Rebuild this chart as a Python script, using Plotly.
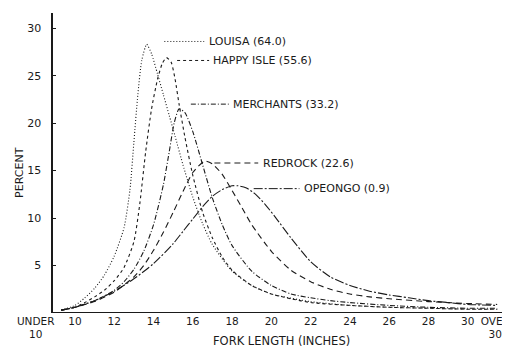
import plotly.graph_objects as go

# ---------------- data ----------------
series_names = ["LOUISA (64.0)", "HAPPY ISLE (55.6)", "MERCHANTS (33.2)",
                "REDROCK (22.6)", "OPEONGO (0.9)"]

louisa_x = [9.3, 10, 10.5, 11, 11.5, 12, 12.5, 12.8, 13.0, 13.2, 13.4, 13.65,
            13.9, 14.2, 14.5, 14.8, 15.1, 15.5, 16, 16.5, 17, 18, 19, 20, 22,
            24, 26, 28, 30, 31.5]
louisa_y = [0.3, 0.8, 1.6, 2.6, 4.0, 6.0, 9.0, 13.0, 18.0, 23.0, 26.6, 28.3,
            27.3, 25.2, 23.0, 20.8, 18.6, 15.6, 12.2, 9.4, 7.2, 4.4, 2.9, 2.0,
            1.2, 0.8, 0.6, 0.5, 0.4, 0.4]

happy_x = [9.3, 10, 10.5, 11, 11.5, 12, 12.5, 13, 13.3, 13.6, 13.9, 14.2, 14.45,
           14.66, 14.9, 15.1, 15.3, 15.6, 16, 16.5, 17, 17.5, 18, 19, 20, 21,
           22, 24, 26, 28, 30, 31.5]
happy_y = [0.3, 0.6, 1.1, 1.7, 2.4, 3.4, 4.8, 7.5, 11.5, 17.0, 21.5, 24.6, 26.3,
           26.9, 26.4, 24.6, 22.0, 18.5, 14.5, 10.6, 7.9, 5.9, 4.5, 2.9, 2.0,
           1.5, 1.1, 0.8, 0.6, 0.5, 0.4, 0.4]

merch_x = [9.3, 10, 11, 12, 12.5, 13, 13.5, 14, 14.5, 14.8, 15.05, 15.3, 15.6,
           16, 16.5, 17, 17.5, 18, 19, 20, 21, 22, 23, 24, 26, 28, 30, 31.5]
merch_y = [0.3, 0.6, 1.3, 2.4, 3.3, 4.6, 6.5, 9.3, 13.5, 17.0, 20.0, 21.5, 21.1,
           19.1, 15.6, 12.1, 9.3, 7.1, 4.4, 2.9, 2.0, 1.6, 1.3, 1.1, 0.8, 0.6,
           0.5, 0.5]

red_x = [9.3, 10, 11, 12, 13, 13.5, 14, 14.5, 15, 15.5, 16, 16.6, 17, 17.5, 18,
         18.5, 19, 20, 21, 22, 23, 24, 25, 26, 28, 30, 31.5]
red_y = [0.3, 0.6, 1.2, 2.2, 3.8, 5.0, 6.6, 8.5, 10.6, 12.8, 14.8, 16.0, 15.7,
         14.6, 12.9, 11.1, 9.3, 6.5, 4.5, 3.3, 2.5, 2.0, 1.7, 1.5, 1.2, 1.0, 0.9]

opeo_x = [9.3, 10, 11, 12, 13, 14, 15, 15.5, 16, 16.5, 17, 17.5, 18, 18.3, 18.7,
          19.2, 19.7, 20.2, 21, 22, 23, 24, 25, 26, 27, 28, 29, 30, 31.5]
opeo_y = [0.3, 0.6, 1.3, 2.3, 3.6, 5.2, 7.3, 8.6, 9.9, 11.2, 12.3, 13.0, 13.4,
          13.4, 13.2, 12.5, 11.4, 10.1, 7.9, 5.4, 3.8, 2.9, 2.3, 1.9, 1.6, 1.3,
          1.1, 0.9, 0.8]

x_tick_vals = [8, 10, 12, 14, 16, 18, 20, 22, 24, 26, 28, 30, 31.4]
x_tick_text = ["UNDER<br>10", "10", "12", "14", "16", "18", "20", "22", "24",
               "26", "28", "30", "OVER<br>30"]
y_tick_vals = [5, 10, 15, 20, 25, 30]

# label placement (annotation text and leader lines)
label_x = [16.7, 16.95, 17.95, 19.45, 21.55]
label_y = [28.6, 26.6, 22.0, 15.8, 13.1]
leader_start = [14.55, 15.2, 15.9, 17.1, 19.1]

# ---------------- styling ----------------
xs = [louisa_x, happy_x, merch_x, red_x, opeo_x]
ys = [louisa_y, happy_y, merch_y, red_y, opeo_y]
dashes = ["1px,2px", "3px,3px", "5px,2px,1px,2px", "6px,4px", "9px,2px,2px,2px"]
ink = "#1a1a1a"
font_family = "DejaVu Sans"

x_min, x_max = 7.2, 32.05
y_axis_at = 8.85
y_min, y_max = 0, 31.6

fig = go.Figure()
for name, x, y, d in zip(series_names, xs, ys, dashes):
    fig.add_trace(go.Scatter(x=x, y=y, mode="lines", name=name,
                             line=dict(color=ink, width=1.1, dash=d,
                                       shape="spline", smoothing=0.6),
                             showlegend=False, hoverinfo="skip"))

# series labels + leader lines
for name, lx, ly, ls, d in zip(series_names, label_x, label_y, leader_start, dashes):
    fig.add_shape(type="line", xref="x", yref="y", x0=ls, x1=lx - 0.12,
                  y0=ly, y1=ly, line=dict(color=ink, width=1, dash=d))
    fig.add_annotation(x=lx, y=ly, xref="x", yref="y", text=name,
                       showarrow=False, xanchor="left", yanchor="middle",
                       font=dict(family=font_family, size=11, color=ink))

# x baseline starting at the y axis
fig.add_shape(type="line", xref="x", yref="y", x0=y_axis_at, x1=31.8,
              y0=0, y1=0, line=dict(color=ink, width=1.8))

fig.add_annotation(xref="paper", yref="paper", x=0.535, y=-0.093,
                   text="FORK LENGTH (INCHES)", showarrow=False,
                   xanchor="center", yanchor="middle",
                   font=dict(family=font_family, size=11.5, color=ink))
fig.add_annotation(xref="paper", yref="paper", x=0.0, y=0.467,
                   text="PERCENT", showarrow=False, textangle=-90,
                   xanchor="center", yanchor="middle",
                   font=dict(family=font_family, size=11, color=ink))

# the page adds an 8px body margin, so the figure is 8px smaller each way
fig.update_layout(
    width=502, height=343,
    margin=dict(l=12, r=0, t=5, b=38),
    paper_bgcolor="white", plot_bgcolor="white",
    xaxis=dict(range=[x_min, x_max], tickvals=x_tick_vals, ticktext=x_tick_text,
               showgrid=False, zeroline=False, showline=False, ticks="",
               ticklabeloverflow="allow",
               tickfont=dict(family=font_family, size=10.5, color=ink)),
    yaxis=dict(range=[y_min, y_max], tickvals=y_tick_vals, showgrid=False,
               zeroline=False, showline=True, linecolor=ink, linewidth=1.8,
               anchor="free",
               position=(y_axis_at - x_min) / (x_max - x_min),
               ticks="inside", ticklen=3, tickcolor=ink,
               ticklabelstandoff=8,
               tickfont=dict(family=font_family, size=11, color=ink)),
)

fig.write_html("out.html")
